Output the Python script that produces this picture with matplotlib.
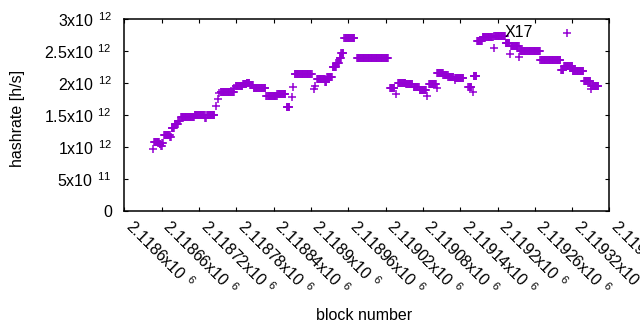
import numpy as np
import matplotlib
matplotlib.use("Agg")
import matplotlib.pyplot as plt

plt.rcParams['font.family'] = ['Liberation Sans', 'DejaVu Sans']
plt.rcParams['mathtext.fontset'] = 'custom'
plt.rcParams['mathtext.rm'] = 'Liberation Sans'

# runs of consecutive blocks sharing one hashrate estimate
# (first block, last block, hashrate in 1e12 h/s)
run_first = [2118646, 2118648, 2118657, 2118659, 2118661, 2118664, 2118674, 2118676,
             2118681, 2118687, 2118691, 2118713, 2118730, 2118733, 2118748, 2118751,
             2118753, 2118755, 2118777, 2118779, 2118791, 2118797, 2118802, 2118808,
             2118828, 2118830, 2118846, 2118861, 2118869, 2118871, 2118874, 2118905,
             2118907, 2118910, 2118923, 2118926, 2118935, 2118941, 2118946, 2118949,
             2118954, 2118974, 2119027, 2119037, 2119040, 2119053, 2119065, 2119075,
             2119087, 2119090, 2119102, 2119103, 2119113, 2119121, 2119131, 2119132,
             2119153, 2119160, 2119162, 2119167, 2119176, 2119194, 2119195, 2119213,
             2119220, 2119222, 2119235, 2119236, 2119269, 2119302, 2119307, 2119312,
             2119321, 2119339, 2119350, 2119351]
run_last = [2118646, 2118656, 2118658, 2118660, 2118662, 2118673, 2118675, 2118680,
            2118686, 2118689, 2118712, 2118729, 2118731, 2118745, 2118748, 2118751,
            2118753, 2118776, 2118777, 2118790, 2118796, 2118801, 2118807, 2118827,
            2118828, 2118845, 2118859, 2118865, 2118869, 2118871, 2118901, 2118905,
            2118907, 2118922, 2118925, 2118934, 2118940, 2118945, 2118948, 2118952,
            2118970, 2119024, 2119034, 2119037, 2119052, 2119063, 2119073, 2119085,
            2119087, 2119101, 2119102, 2119112, 2119120, 2119129, 2119131, 2119145,
            2119158, 2119160, 2119166, 2119175, 2119192, 2119194, 2119212, 2119219,
            2119220, 2119234, 2119235, 2119268, 2119301, 2119306, 2119320, 2119312,
            2119338, 2119349, 2119350, 2119362]
run_rate = [0.965, 1.085, 1.05, 1.02, 1.06, 1.19, 1.16, 1.30,
            1.36, 1.41, 1.47, 1.50, 1.46, 1.51, 1.64, 1.76,
            1.85, 1.86, 1.93, 1.955, 1.99, 2.01, 1.97, 1.92,
            1.80, 1.80, 1.83, 1.63, 1.78, 1.945, 2.14, 1.91,
            1.955, 2.06, 2.02, 2.10, 2.26, 2.31, 2.39, 2.47,
            2.70, 2.39, 1.92, 1.825, 2.01, 1.98, 1.945, 1.89,
            1.80, 1.98, 1.93, 2.16, 2.13, 2.09, 2.05, 2.075,
            1.94, 1.87, 2.105, 2.665, 2.72, 2.545, 2.735, 2.625,
            2.455, 2.575, 2.41, 2.50, 2.357, 2.205, 2.27, 2.79,
            2.19, 2.03, 1.91, 1.955]

xtick_blocks = [2118600, 2118660, 2118720, 2118780, 2118840, 2118900, 2118960,
                2119020, 2119080, 2119140, 2119200, 2119260, 2119320, 2119380]
xtick_mantissa = ['2.1186', '2.11866', '2.11872', '2.11878', '2.11884', '2.1189', '2.11896',
                  '2.11902', '2.11908', '2.11914', '2.1192', '2.11926', '2.11932', '2.11938']
ytick_values = [0, 0.5e12, 1e12, 1.5e12, 2e12, 2.5e12, 3e12]
ytick_mantissa = ['0', '5', '1', '1.5', '2', '2.5', '3']
ytick_exponent = ['', '11', '12', '12', '12', '12', '12']


def sci_label(mantissa, exponent):
    # gnuplot style "Mx10^E" with a gap before the raised exponent
    if not exponent:
        return mantissa
    return '$\\mathregular{%sx10}^{\\mathregular{\\ \\,%s}}$' % (mantissa, exponent)


blocks = np.concatenate([np.arange(a, b + 1) for a, b in zip(run_first, run_last)])
rates = np.concatenate([np.full(b - a + 1, r * 1e12)
                        for a, b, r in zip(run_first, run_last, run_rate)])

fig = plt.figure(figsize=(6.4, 3.3), dpi=100)
ax = fig.add_axes([0.1942, 0.3606, 0.7581, 0.5809])

ax.plot(blocks, rates, linestyle='none', marker='+', ms=5.6, mew=1.1, color='#9400d3')
ax.text(2119212, 2.80e12, 'X17', ha='left', va='center', fontsize=11.5)

ax.set_xlim(2118600, 2119380)
ax.set_ylim(0, 3e12)
ax.set_xticks(xtick_blocks)
ax.set_xticklabels([sci_label(m, '6') for m in xtick_mantissa])
ax.set_yticks(ytick_values)
ax.set_yticklabels([sci_label(m, e) for m, e in zip(ytick_mantissa, ytick_exponent)])
for lbl in ax.get_xticklabels():
    lbl.set_rotation(-45)
    lbl.set_ha('left')
    lbl.set_va('baseline')
    lbl.set_rotation_mode('anchor')

ax.tick_params(direction='in', length=3.2, width=0.8, top=True, right=True,
               labelsize=11.5, colors='black')
ax.tick_params(axis='y', pad=9)
ax.tick_params(axis='x', pad=12)
for s in ax.spines.values():
    s.set_linewidth(1.1)

fig.text(364 / 640, 1 - 316 / 330, 'block number', ha='center', va='center', fontsize=11.5)
fig.text(18 / 640, 1 - 118 / 330, 'hashrate [h/s]', ha='center', va='center',
         rotation=90, fontsize=11.5)

fig.savefig('out.png', dpi=100)
